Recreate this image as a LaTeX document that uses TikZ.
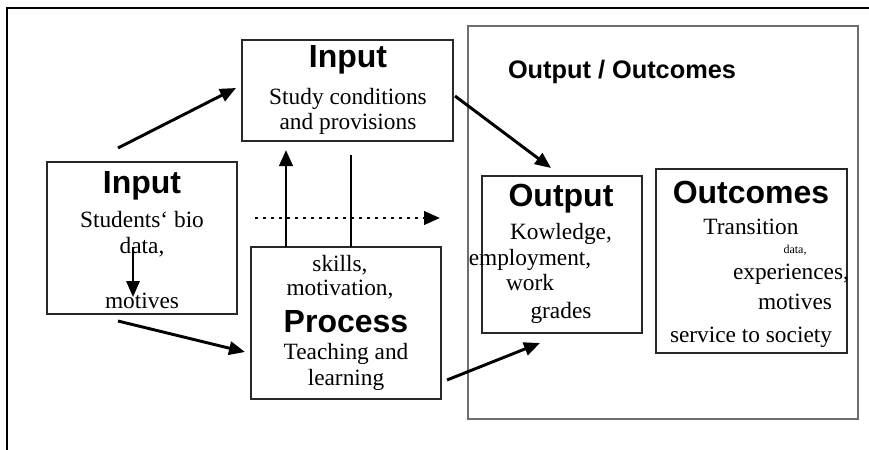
\documentclass[tikz,border=0pt]{standalone}
\usepackage{fontspec}
\setmainfont{Liberation Serif}
\setsansfont{Liberation Sans}
\usetikzlibrary{arrows.meta,fit}

\tikzset{every picture/.style={line width=0.75pt}}
\tikzset{
	box/.style={draw={rgb, 255:red, 40; green, 40; blue, 40}, line width=0.9pt, inner sep=0pt},
	frame/.style={draw={rgb, 255:red, 110; green, 110; blue, 110}, line width=1.1pt, inner sep=0pt},
	head/.style={font=\sffamily\bfseries\fontsize{24}{26}\selectfont, inner sep=0pt},
	label/.style={font=\fontsize{17.5}{20}\selectfont, inner sep=0pt},
	arr/.style={line width=2.2pt, -{Triangle[length=12pt,width=10pt]}},
	dotarr/.style={arr, dash pattern=on 2.2pt off 3.8pt}
}

\begin{document}
\begin{tikzpicture}[x=0.75pt,y=0.75pt,yscale=-1,xscale=1]
	\useasboundingbox (0,0) rectangle (869,450);

	%outer frame
	\draw [line width=2pt] (7,450) -- (7,8) -- (869,8) ;

	%Boxes
	\node [frame, fit={(468,26) (858,419)}] (outBig) {};
	\node [box, fit={(242,40) (453,141)}] (inStudy) {};
	\node [box, fit={(47,162) (237,314)}] (inBio) {};
	\node [box, fit={(251,247) (441,399)}] (proc) {};
	\node [box, fit={(482,176) (642,333)}] (outp) {};
	\node [box, fit={(656,169) (847,353)}] (outc) {};

	% Text Node
	\node [head, font=\sffamily\bfseries\fontsize{19}{21}\selectfont] (outBigT) at (622,72) {Output / Outcomes};
	% Text Node
	\node [head] (inStudyT) at (348,60) {Input};
	\node [label] (inStudyA) at (348,99) {Study conditions};
	\node [label] (inStudyB) at (348,124) {and provisions};
	% Text Node
	\node [head] (inBioT) at (142,186) {Input};
	\node [label] (inBioA) at (142,220) {Students‘ bio};
	\node [label] (inBioB) at (142,247) {data,};
	\node [label] (inBioC) at (142,301) {motives};
	% Text Node
	\node [label] (procA) at (340,265) {skills,};
	\node [label] (procB) at (340,290) {motivation,};
	\node [head] (procT) at (346,322) {Process};
	\node [label] (procC) at (346,354) {Teaching and};
	\node [label] (procD) at (346,380) {learning};
	% Text Node
	\node [head] (outpT) at (561,199) {Output};
	\node [label] (outpA) at (561,234) {Kowledge,};
	\node [label] (outpB) at (530,260) {employment,};
	\node [label] (outpC) at (530,283) {work};
	\node [label] (outpD) at (561,313) {grades};
	% Text Node
	\node [head] (outcT) at (751,192) {Outcomes};
	\node [label] (outcA) at (751,227) {Transition};
	\node [label, font=\fontsize{9}{10}\selectfont] (outcB) at (795,250) {data,};
	\node [label] (outcC) at (791,274) {experiences,};
	\node [label] (outcD) at (795,302) {motives};
	\node [label] (outcE) at (751,337) {service to society};

	%Arrow ends
	\coordinate (bioUp) at (118,148);
	\coordinate (studyIn) at (236,88);
	\coordinate (studyOut) at (455,96);
	\coordinate (outpIn) at (551,168);
	\coordinate (bioDown) at (118,321);
	\coordinate (procIn) at (245,352);
	\coordinate (procOut) at (447,380);
	\coordinate (outpIn2) at (540,343);
	\coordinate (procUp) at (286,247);
	\coordinate (studyUp) at (286,150);
	\coordinate (studyDown) at (351,155);
	\coordinate (procTop) at (351,247);
	\coordinate (dotStart) at (255,218);
	\coordinate (dotEnd) at (440,218);
	\coordinate (bioA) at (133,247);
	\coordinate (bioB) at (133,297);

	%Straight Lines
	\draw [arr] (bioUp) -- (studyIn) ;
	\draw [arr] (studyOut) -- (outpIn) ;
	\draw [arr] (bioDown) -- (procIn) ;
	\draw [arr] (procOut) -- (outpIn2) ;
	\draw [arr] (procUp) -- (studyUp) ;
	\draw [line width=2.2pt] (studyDown) -- (procTop) ;
	\draw [dotarr] (dotStart) -- (dotEnd) ;
	\draw [arr, line width=1.6pt] (bioA) -- (bioB) ;

\end{tikzpicture}
\end{document}
